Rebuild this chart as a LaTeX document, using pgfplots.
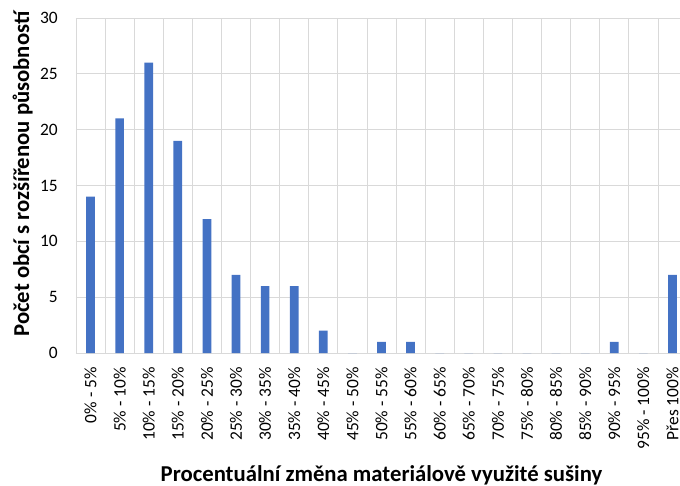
\documentclass[border=0pt]{standalone}
\usepackage{pgfplots}
\pgfplotsset{compat=1.18}
\usepackage{fontspec}
\setmainfont{Carlito}
\definecolor{barblue}{HTML}{4472C4}
\definecolor{gridgray}{HTML}{D9D9D9}
\begin{document}
\begin{tikzpicture}
\begin{axis}[
  at={(0,0)}, anchor=south west,
  scale only axis,
  width=611bp, height=335bp,
  ybar, bar width=8.7bp,
  xmin=-0.5, xmax=20.5,
  ymin=0, ymax=30,
  ytick={0,5,...,30},
  xtick={0,...,20},
  xticklabels={0\% - 5\%,5\% - 10\%,10\% - 15\%,15\% - 20\%,20\% - 25\%,25\% - 30\%,30\% - 35\%,35\% - 40\%,40\% - 45\%,45\% - 50\%,50\% - 55\%,55\% - 60\%,60\% - 65\%,65\% - 70\%,70\% - 75\%,75\% - 80\%,80\% - 85\%,85\% - 90\%,90\% - 95\%,95\% - 100\%,Přes 100\%},
  minor xtick={-0.5,0.5,...,20.5},
  xminorgrids=true, ymajorgrids=true, xmajorgrids=false,
  grid style={gridgray, line width=0.8bp},
  minor grid style={gridgray, line width=0.8bp},
  major tick length=0pt, minor tick length=0pt,
  axis line style={draw=none},
  /pgf/number format/assume math mode=true,
  yticklabel style={font=\fontsize{17.5}{20}\selectfont, anchor=east, inner sep=0pt, xshift=-18bp},
  xticklabel style={font=\fontsize{17.5}{20}\selectfont, rotate=90, anchor=east, inner sep=0pt, xshift=-14bp},
  xlabel={\textbf{Procentuální změna materiálově využité sušiny}},
  ylabel={\textbf{Počet obcí s rozšířenou působností}},
  xlabel style={font=\fontsize{22.8}{26}\selectfont, at={(axis description cs:0.5,-0.3821)}, anchor=base},
  ylabel style={font=\fontsize{22.8}{26}\selectfont, at={(axis description cs:-0.0769,0.5358)}, anchor=base},
  clip=false,
]
\addplot[fill=barblue, draw=none] coordinates {
(0,14) (1,21) (2,26) (3,19) (4,12) (5,7) (6,6) (7,6) (8,2) (9,0) (10,1)
(11,1) (12,0) (13,0) (14,0) (15,0) (16,0) (17,0) (18,1) (19,0) (20,7)};
\end{axis}
\pgfresetboundingbox
\useasboundingbox (-76bp,-133bp) rectangle (604bp,353bp);
\end{tikzpicture}
\end{document}
